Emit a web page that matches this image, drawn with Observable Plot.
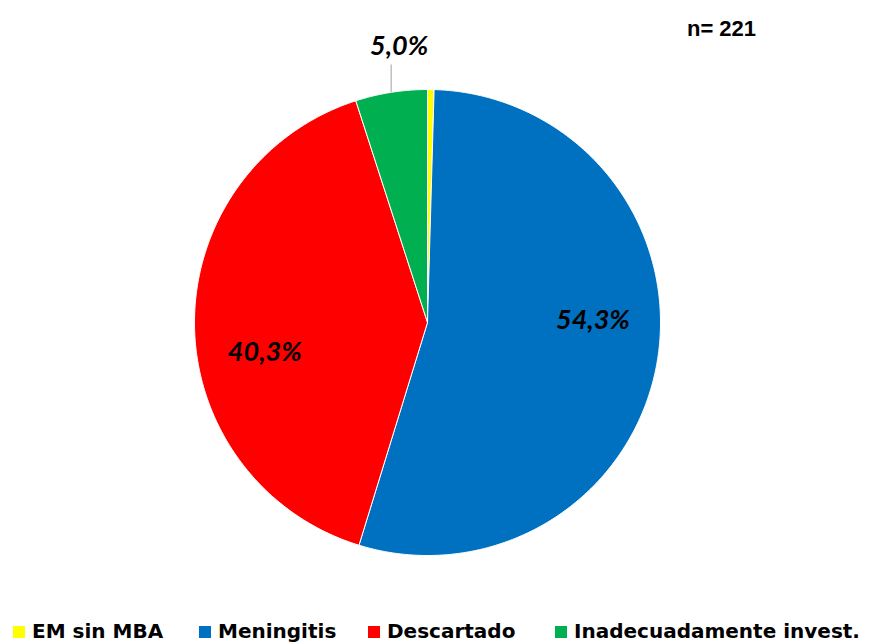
<!DOCTYPE html>
<html>
<head>
<meta charset="utf-8">
<script src="https://cdn.jsdelivr.net/npm/d3@7"></script>
<script src="https://cdn.jsdelivr.net/npm/@observablehq/plot@0.6"></script>
<style>
  html, body { margin: 0; padding: 0; background: #fff; }
  #wrap { position: relative; width: 872px; height: 644px; overflow: hidden; }
  #chart svg { display: block; }
  .leg { position: absolute; top: 619px; display: flex; align-items: center;
         font-family: "DejaVu Sans", sans-serif; font-weight: bold; font-size: 20px; color: #000; white-space: nowrap; }
  .sw { display: inline-block; width: 12px; height: 12px; margin-right: 7px; margin-top: 2px; }
</style>
</head>
<body>
<div id="wrap">
  <div id="chart"></div>
  <div id="legend"></div>
</div>
<script>
// Data
const categories = ["EM sin MBA", "Meningitis", "Descartado", "Inadecuadamente invest."];
const counts = [1, 120, 89, 11];
const colors = ["#ffff00", "#0070c0", "#ff0000", "#00b050"];
const legendX = [13, 199, 368, 555];

const total = d3.sum(counts);
const fmt = v => (v * 100).toFixed(1).replace(".", ",") + "%";

// Slice angles (clockwise from 12 o'clock)
let acc = 0;
const slices = categories.map((cat, i) => {
  const a0 = acc / total * 2 * Math.PI;
  acc += counts[i];
  const a1 = acc / total * 2 * Math.PI;
  return {cat, a0, a1, mid: (a0 + a1) / 2, share: counts[i] / total};
});

// Polygon vertices for each slice
const pts = [];
for (const s of slices) {
  pts.push({cat: s.cat, x: 0, y: 0});
  const n = Math.max(2, Math.ceil((s.a1 - s.a0) / (Math.PI / 360)));
  for (let k = 0; k <= n; ++k) {
    const a = s.a0 + (s.a1 - s.a0) * k / n;
    pts.push({cat: s.cat, x: Math.sin(a), y: Math.cos(a)});
  }
  pts.push({cat: s.cat, x: 0, y: 0});
}

const R = 233, cx = 427, cy = 322, W = 872, H = 600;
const inner = slices.filter(s => s.share > 0.1).map(s => {
  const a = s.mid - 10 * Math.PI / 180;
  return {x: 0.71 * Math.sin(a), y: 0.71 * Math.cos(a), label: fmt(s.share)};
});
const outer = slices.filter(s => s.share > 0.02 && s.share <= 0.1).map(s => ({
  x: Math.sin(s.mid), y: Math.cos(s.mid), y2: (cy - 64) / R, ty: (cy - 46) / R, label: fmt(s.share)
}));

const plot = Plot.plot({
  width: W, height: H, margin: 0,
  x: {domain: [-cx / R, (W - cx) / R], axis: null},
  y: {domain: [-(H - cy) / R, cy / R], axis: null},
  color: {domain: categories, range: colors},
  marks: [
    Plot.line(pts, {x: "x", y: "y", z: "cat", fill: "cat", stroke: "white", strokeWidth: 1, curve: "linear"}),
    Plot.link(outer, {x1: "x", y1: "y", x2: "x", y2: "y2", stroke: "#bfbfbf", strokeWidth: 1.5}),
    Plot.text(outer, {x: "x", y: "ty", text: "label", dx: 8, fontFamily: "Lato, 'Open Sans', sans-serif",
      fontWeight: "bold", fontStyle: "italic", fontSize: 27, fill: "#000"}),
    Plot.text(inner, {x: "x", y: "y", text: "label", fontFamily: "Lato, 'Open Sans', sans-serif",
      fontWeight: "bold", fontStyle: "italic", fontSize: 27, fill: "#000"}),
    Plot.text([`n= ${total}`], {frameAnchor: "top-left", dx: 721, dy: 20, textAnchor: "middle", text: d => d,
      fontFamily: "'Liberation Sans', Arial, sans-serif", fontWeight: "bold", fontSize: 22, fill: "#000"})
  ]
});
document.getElementById("chart").appendChild(plot);

// Legend
const leg = document.getElementById("legend");
categories.forEach((c, i) => {
  const d = document.createElement("div");
  d.className = "leg";
  d.style.left = legendX[i] + "px";
  d.innerHTML = `<span class="sw" style="background:${colors[i]}"></span>${c}`;
  leg.appendChild(d);
});
</script>
</body>
</html>
